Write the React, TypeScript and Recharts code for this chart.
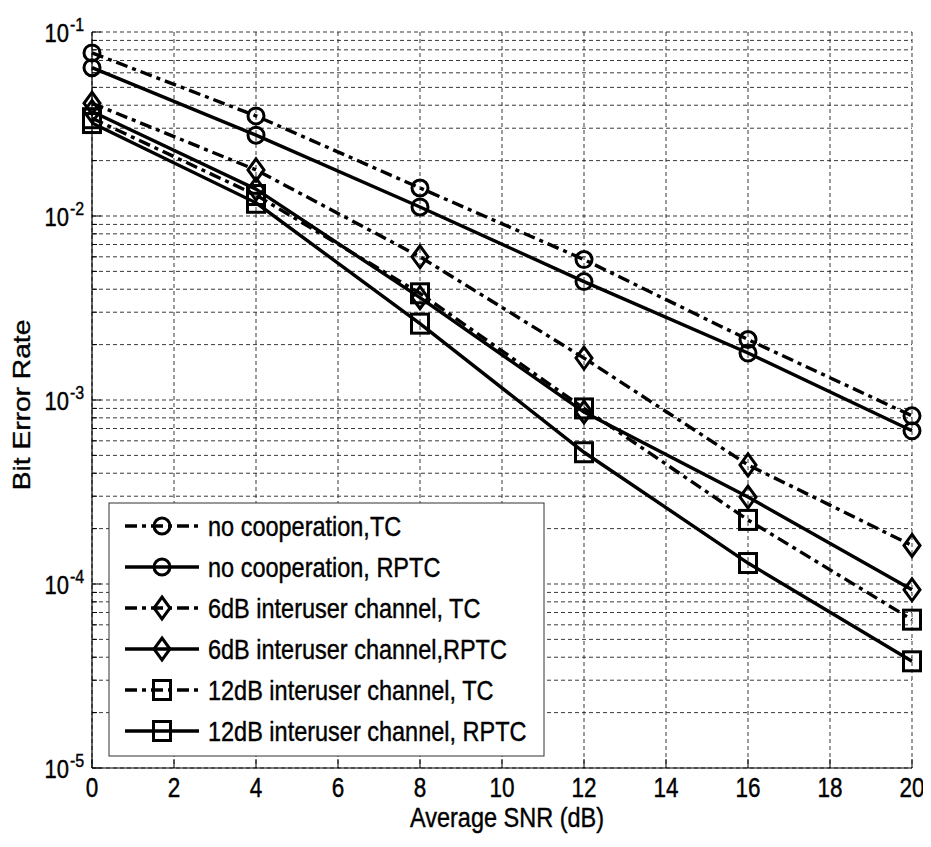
import React from 'react';
import { LineChart, Line, XAxis, YAxis, CartesianGrid } from 'recharts';

// ---------- data ----------
const snr = [0, 4, 8, 12, 16, 20];
const noCoopTC = [0.077, 0.035, 0.0142, 0.0058, 0.00213, 0.00082];
const noCoopRPTC = [0.064, 0.0275, 0.0112, 0.0044, 0.0018, 0.00068];
const sixTC = [0.041, 0.0178, 0.006, 0.00169, 0.000444, 0.000162];
const sixRPTC = [0.037, 0.014, 0.0036, 0.00086, 0.000297, 0.000093];
const twelveTC = [0.034, 0.013, 0.0038, 0.0009, 0.000223, 0.000064];
const twelveRPTC = [0.032, 0.0118, 0.0026, 0.00052, 0.00013, 0.000038];

const seriesValues = [noCoopTC, noCoopRPTC, sixTC, sixRPTC, twelveTC, twelveRPTC];
const seriesNames = [
  'no cooperation,TC',
  'no cooperation, RPTC',
  '6dB interuser channel, TC',
  '6dB interuser channel,RPTC',
  '12dB interuser channel, TC',
  '12dB interuser channel, RPTC',
];
const seriesMarkers = ['circle', 'circle', 'diamond', 'diamond', 'square', 'square'];
const seriesDashDot = [true, false, true, false, true, false];

const xTicks = [0, 2, 4, 6, 8, 10, 12, 14, 16, 18, 20];
const decadeTicks = [1e-5, 1e-4, 1e-3, 1e-2, 1e-1];
const decadeExponents = ['-5', '-4', '-3', '-2', '-1'];
const minorMultipliers = [1, 2, 3, 4, 5, 6, 7, 8, 9];
const yTicks: number[] = [];
decadeTicks.slice(0, 4).forEach((d) => minorMultipliers.forEach((m) => yTicks.push(+(m * d).toPrecision(6))));
yTicks.push(1e-1);

const data = snr.map((x, i) => {
  const row: any = { snr: x };
  seriesValues.forEach((s, k) => (row['s' + k] = s[i]));
  return row;
});

// ---------- styles ----------
const W = 923;
const H = 830;
const FONT = "Arial, 'Liberation Sans', Helvetica, sans-serif";
const DASHDOT = '12 5 4 5';
const LINE_W = 3.4;
const TEXT_STROKE = 0.35;

const Marker = ({ shape, cx, cy }: { shape: string; cx: number; cy: number }) => {
  const sw = 3;
  if (cx == null || cy == null || isNaN(cx) || isNaN(cy)) return null;
  if (shape === 'circle') return <circle cx={cx} cy={cy} r={8} fill="none" stroke="#000" strokeWidth={sw} />;
  if (shape === 'diamond')
    return (
      <polygon
        points={`${cx},${cy - 11} ${cx + 8},${cy} ${cx},${cy + 11} ${cx - 8},${cy}`}
        fill="none"
        stroke="#000"
        strokeWidth={sw}
      />
    );
  return <rect x={cx - 8.5} y={cy - 9.5} width={17} height={19} fill="none" stroke="#000" strokeWidth={sw} />;
};

const isDecade = (v: number) => decadeTicks.findIndex((d) => Math.abs(v - d) / d < 1e-6);

const YTickLeft = (props: any) => {
  const { x, y, payload } = props;
  const idx = isDecade(payload.value);
  const len = idx >= 0 ? 9 : 5;
  return (
    <g>
      <line x1={x} y1={y} x2={x + len} y2={y} stroke="#000" strokeWidth={1} />
      {idx >= 0 && (
        <g transform={`translate(${x - 23},${y + 9.5}) scale(1,1.2)`}>
          <text x={0} y={0} textAnchor="end" fontFamily={FONT} fontSize={22} fill="#000" stroke="#000" strokeWidth={TEXT_STROKE}>
            10
          </text>
          <text x={1} y={-9} textAnchor="start" fontFamily={FONT} fontSize={16} fill="#000" stroke="#000" strokeWidth={TEXT_STROKE}>
            {decadeExponents[idx]}
          </text>
        </g>
      )}
    </g>
  );
};

const YTickRight = (props: any) => {
  const { x, y, payload } = props;
  const idx = isDecade(payload.value);
  const len = idx >= 0 ? 9 : 5;
  return <line x1={x} y1={y} x2={x - len} y2={y} stroke="#000" strokeWidth={1} />;
};

const XTickBottom = (props: any) => {
  const { x, y, payload } = props;
  return (
    <g>
      <line x1={x} y1={y} x2={x} y2={y - 9} stroke="#000" strokeWidth={1} />
      <g transform={`translate(${x},${y + 29}) scale(1,1.2)`}>
        <text x={0} y={0} textAnchor="middle" fontFamily={FONT} fontSize={22.5} fill="#000" stroke="#000" strokeWidth={TEXT_STROKE}>
          {payload.value}
        </text>
      </g>
    </g>
  );
};

const XTickTop = (props: any) => {
  const { x, y } = props;
  return <line x1={x} y1={y} x2={x} y2={y + 9} stroke="#000" strokeWidth={1} />;
};

// legend geometry (overlay)
const LEG_X = 101;
const LEG_Y = 495;
const LEG_W = 435;
const LEG_H = 253;
const LEG_ROW0 = 23;
const LEG_ROW_STEP = 41;

export default function App() {
  return (
    <div style={{ position: 'relative', width: W, height: H }}>
      <LineChart
        width={W}
        height={H}
        data={data}
        margin={{ top: 24, right: 19, bottom: 0, left: 0 }}
        style={{ background: '#fff' }}
      >
        <CartesianGrid stroke="#222" strokeWidth={0.9} strokeDasharray="4 3" />
        <XAxis
          dataKey="snr"
          type="number"
          domain={[0, 20]}
          ticks={xTicks}
          height={70}
          tickSize={0}
          tickMargin={0}
          tickLine={false}
          axisLine={{ stroke: '#000', strokeWidth: 1.2 }}
          tick={<XTickBottom />}
          interval={0}
        />
        <XAxis
          xAxisId="top"
          orientation="top"
          dataKey="snr"
          type="number"
          domain={[0, 20]}
          ticks={xTicks}
          height={0}
          tickSize={0}
          tickMargin={0}
          tickLine={false}
          axisLine={{ stroke: '#000', strokeWidth: 1.2 }}
          tick={<XTickTop />}
          interval={0}
        />
        <YAxis
          scale="log"
          type="number"
          domain={[1e-5, 1e-1]}
          allowDataOverflow
          ticks={yTicks}
          width={84}
          tickSize={0}
          tickMargin={0}
          tickLine={false}
          axisLine={{ stroke: '#000', strokeWidth: 1.2 }}
          tick={<YTickLeft />}
          interval={0}
        />
        <YAxis
          yAxisId="right"
          orientation="right"
          scale="log"
          type="number"
          domain={[1e-5, 1e-1]}
          allowDataOverflow
          ticks={yTicks}
          width={0}
          tickSize={0}
          tickMargin={0}
          tickLine={false}
          axisLine={{ stroke: '#000', strokeWidth: 1.2 }}
          tick={<YTickRight />}
          interval={0}
        />
        {seriesValues.map((_, k) => (
          <Line
            key={k}
            dataKey={'s' + k}
            stroke="#000"
            strokeWidth={LINE_W}
            strokeDasharray={seriesDashDot[k] ? DASHDOT : undefined}
            isAnimationActive={false}
            type="linear"
            dot={(p: any) => <Marker key={'m' + k + '-' + p.index} shape={seriesMarkers[k]} cx={p.cx} cy={p.cy} />}
            activeDot={false}
          />
        ))}
      </LineChart>
      <svg
        width={W}
        height={H}
        style={{ position: 'absolute', left: 0, top: 0, pointerEvents: 'none' }}
      >
        {/* axis titles */}
        <g transform="translate(499,819) scale(1,1.2)">
          <text x={0} y={0} textAnchor="middle" fontFamily={FONT} fontSize={23.5} fill="#000" stroke="#000" strokeWidth={TEXT_STROKE}>
            Average SNR (dB)
          </text>
        </g>
        <g transform="translate(14,397) rotate(-90) scale(1.2,1)">
          <text x={0} y={8} textAnchor="middle" fontFamily={FONT} fontSize={23.5} fill="#000" stroke="#000" strokeWidth={TEXT_STROKE}>
            Bit Error Rate
          </text>
        </g>
        {/* legend */}
        <rect x={LEG_X} y={LEG_Y} width={LEG_W} height={LEG_H} fill="#fff" stroke="#333" strokeWidth={1} />
        {seriesNames.map((name, k) => {
          const cy = LEG_Y + LEG_ROW0 + k * LEG_ROW_STEP;
          return (
            <g key={k}>
              <line
                x1={LEG_X + 16}
                y1={cy}
                x2={LEG_X + 90}
                y2={cy}
                stroke="#000"
                strokeWidth={LINE_W}
                strokeDasharray={seriesDashDot[k] ? DASHDOT : undefined}
              />
              <Marker shape={seriesMarkers[k]} cx={LEG_X + 53} cy={cy} />
              <g transform={`translate(${LEG_X + 99},${cy + 10}) scale(1,1.2)`}>
                <text x={0} y={0} fontFamily={FONT} fontSize={23.5} fill="#000" stroke="#000" strokeWidth={TEXT_STROKE}>
                  {name}
                </text>
              </g>
            </g>
          );
        })}
      </svg>
    </div>
  );
}
